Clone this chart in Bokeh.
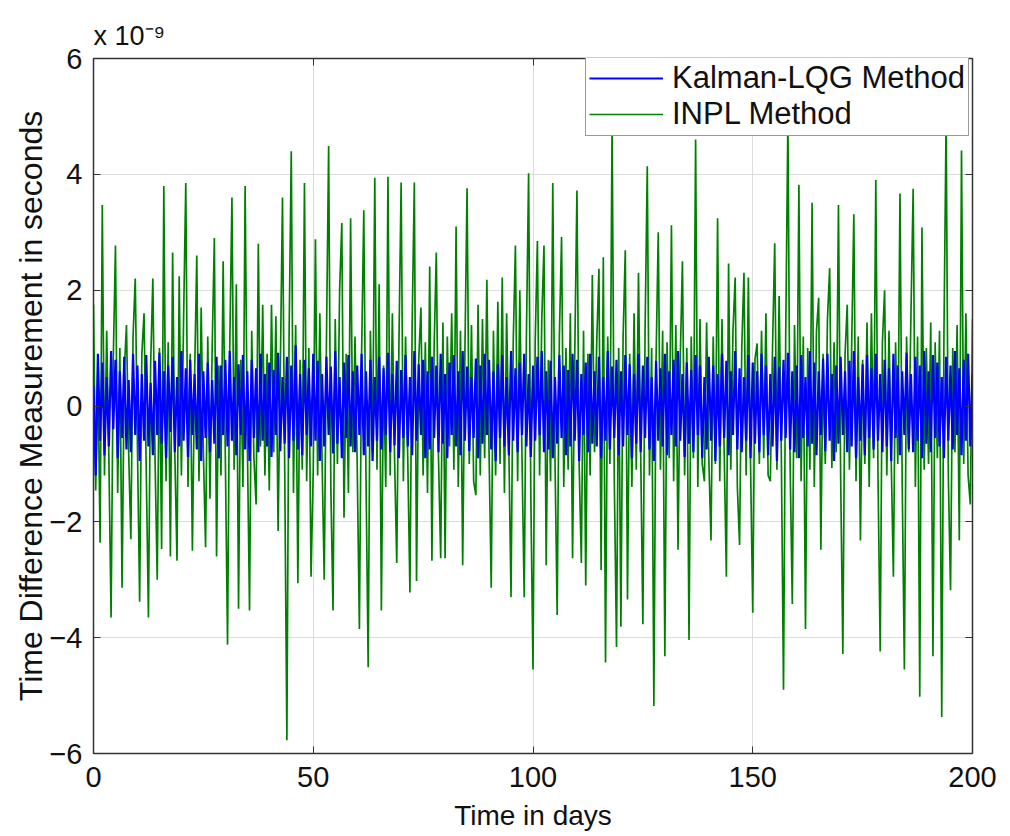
from bokeh.plotting import figure
from bokeh.models import (Range1d, LinearAxis, FixedTicker, Legend, LegendItem,
                          Title, CustomJSTickFormatter)
from bokeh.embed import file_html
from bokeh.resources import INLINE

# ---- data (values in units of 1e-9 s), sampled every half day ----
step_days = 0.5
x_ticks = [0, 50, 100, 150, 200]
y_ticks = [-6, -4, -2, 0, 2, 4, 6]
series_names = ["Kalman-LQG Method", "INPL Method"]
scale_text = "x 10\u207b\u2079"

kalman_lqg = [
    0.35, -1.2, 0.9, -0.6, 0.75, -0.85, 0.5, -0.7, 0.95, -0.4, 0.8, -0.9, 0.6, -0.55, 0.85, -0.75, 0.45, -0.8, 0.9, -0.5,
    0.7, -0.95, 0.55, -0.6, 0.88, -0.7, 0.4, -0.85, 0.78, -0.5, 0.92, -0.65, 0.6, -0.9, 0.7, -0.45, 0.85, -0.8, 0.5, -0.7,
    0.95, -0.6, 0.65, -0.88, 0.8, -0.5, 0.55, -0.75, 0.9, -0.95, 0.6, -0.55, 0.75, -0.8, 0.45, -0.65, 0.85, -0.9, 0.7, -0.5,
    0.8, -0.7, 0.95, -0.6, 0.5, -0.85, 0.72, -0.5, 0.88, -0.75, 0.6, -0.95, 0.8, -0.55, 0.65, -0.8, 0.9, -0.6, 0.55, -0.7,
    0.75, -0.88, 0.62, -0.5, 0.92, -0.78, 0.5, -0.65, 0.85, -0.9, 0.7, -0.6, 1.05, -0.75, 0.55, -0.85, 0.8, -0.5, 0.65, -0.7,
    0.9, -0.6, 0.78, -0.95, 0.55, -0.7, 0.85, -0.5, 0.68, -0.82, 0.95, -0.65, 0.5, -0.9, 0.75, -0.55, 0.88, -0.7, 0.6, -0.8,
    0.7, -0.5, 0.9, -0.85, 0.6, -0.7, 0.8, -0.95, 0.5, -0.6, 0.85, -0.75, 0.65, -0.5, 0.92, -0.8, 0.55, -0.68, 0.78, -0.9,
    0.62, -0.55, 0.88, -0.7, 0.5, -0.85, 0.95, -0.6, 0.72, -0.5, 0.8, -0.9, 0.6, -0.75, 0.85, -0.55, 0.7, -0.8, 0.9, -0.65,
    0.55, -0.9, 0.75, -0.5, 0.88, -0.7, 0.6, -0.85, 0.95, -0.6, 0.68, -0.78, 0.5, -0.55, 0.82, -0.9, 0.7, -0.65, 0.9, -0.5,
    0.8, -0.75, 0.6, -0.95, 0.72, -0.55, 0.88, -0.7, 0.5, -0.85, 0.95, -0.6, 0.65, -0.8, 0.75, -0.5, 0.9, -0.7, 0.55, -0.88,
    0.7, -0.6, 0.85, -0.5, 0.95, -0.8, 0.6, -0.75, 0.78, -0.9, 0.5, -0.65, 0.88, -0.55, 0.7, -0.85, 0.62, -0.7, 0.9, -0.6,
    0.8, -0.95, 0.55, -0.5, 0.75, -0.8, 0.9, -0.65, 0.6, -0.7, 0.85, -0.9, 0.5, -0.6, 0.95, -0.75, 0.68, -0.55, 0.8, -0.85,
    0.6, -0.7, 0.88, -0.5, 0.72, -0.9, 0.55, -0.65, 0.9, -0.8, 0.7, -0.55, 0.85, -0.75, 0.5, -0.95, 0.78, -0.6, 0.65, -0.7,
    0.9, -0.85, 0.6, -0.5, 0.8, -0.7, 0.95, -0.6, 0.55, -0.88, 0.75, -0.65, 0.62, -0.8, 0.88, -0.5, 0.7, -0.9, 0.5, -0.75,
    0.85, -0.6, 0.7, -0.95, 0.55, -0.7, 0.9, -0.55, 0.78, -0.85, 0.6, -0.5, 0.95, -0.75, 0.65, -0.8, 0.5, -0.6, 0.88, -0.9,
    0.75, -0.65, 0.6, -0.8, 0.9, -0.5, 0.7, -0.85, 0.55, -0.7, 0.85, -0.95, 0.68, -0.6, 0.8, -0.55, 0.92, -0.75, 0.6, -0.8,
    0.7, -0.9, 0.88, -0.55, 0.5, -0.7, 0.95, -0.65, 0.75, -0.85, 0.6, -0.5, 0.82, -0.78, 0.9, -0.6, 0.55, -0.95, 0.7, -0.65,
    0.85, -0.5, 0.6, -0.8, 0.78, -0.7, 0.95, -0.9, 0.5, -0.6, 0.72, -0.85, 0.88, -0.55, 0.65, -0.75, 0.9, -0.6, 0.55, -0.8,
    0.8, -0.7, 0.65, -0.95, 0.9, -0.55, 0.7, -0.85, 0.6, -0.5, 0.92, -0.75, 0.55, -0.8, 0.85, -0.6, 0.7, -0.9, 0.95, -0.65,
    0.6, -0.8, 0.88, -0.55, 0.75, -0.7, 0.5, -0.9, 0.85, -0.6, 0.7, -0.75, 0.95, -0.5, 0.65, -0.85, 0.8, -0.6, 0.9, -0.7,
    0.55,
]

inpl = [
    1.75, -1.46, 0.7, -2.36, 3.47, -1.2, 1.3, -0.9, -3.65, 0.8, 2.77, -1.5, 1.0, -3.14, 0.6, 1.4, -0.8, -2.3, 1.2, 2.2,
    -0.7, -3.38, 0.9, 1.6, -1.1, -3.65, 0.7, 2.2, -0.9, -3.0, 1.0, -2.47, 3.8, -1.3, 1.1, -2.6, 2.65, -0.8, -2.67, 2.24,
    -1.2, 1.5, 3.85, -1.4, 0.9, -2.5, 0.5, 2.6, -1.3, 1.7, -0.8, -2.44, 1.2, -1.6, 1.0, 2.9, -2.6, 0.7, -1.2, 2.5,
    -0.9, -4.12, 1.0, 3.6, -1.1, 2.1, -3.5, 0.8, -1.4, 3.8, -0.6, -3.53, 1.3, -0.9, -1.7, 2.8, -0.7, 1.75, -1.2, 0.9,
    -1.46, 1.75, -0.8, 1.55, -2.16, 0.6, 3.6, -1.0, -5.77, 1.2, 4.4, -1.5, 1.4, -3.06, 0.8, -1.1, 3.85, -1.3, 1.0, -2.95,
    -1.1, 2.88, -1.2, 1.6, -0.9, -3.0, 1.1, 4.49, -1.4, -3.53, 1.5, -1.0, 2.0, 3.16, -1.93, 0.9, -1.5, 3.24, -0.8, 1.2,
    -1.0, -3.85, 0.9, 3.38, -1.2, -4.51, 1.3, -0.8, 3.94, -1.1, 2.1, -3.53, 0.7, -1.4, 3.96, -1.2, 1.6, -0.9, -2.71, 1.1,
    3.86, -1.3, 1.2, -0.9, -3.22, 1.4, 3.86, -3.02, 0.8, 1.7, -1.2, 1.1, -1.5, 2.41, -2.67, 1.0, 2.65, -0.9, -2.63, 1.44,
    -2.63, 1.2, -0.7, 1.6, -1.1, 3.1, -1.4, 1.3, -2.75, 0.9, 3.76, -1.0, 1.4, -1.3, -1.54, 1.75, -1.2, 1.5, -0.9, 2.18,
    -0.8, -3.14, 1.3, -1.2, 1.8, -1.0, 2.22, -1.5, 1.6, -0.7, -3.3, 1.1, 2.77, -1.3, 2.0, -0.9, -3.3, 1.2, 4.02, -1.5,
    -4.55, 1.1, 2.85, -1.2, 1.5, 2.77, -2.75, 0.8, -1.3, 3.85, -0.9, -3.61, 1.2, 2.92, -1.4, 1.0, -1.1, 1.6, -2.63, 0.9,
    3.72, -1.0, -2.71, 1.3, -3.1, 0.9, -1.2, 2.26, -0.8, 1.1, 2.37, -2.83, 2.57, -4.43, 1.2, -1.0, 4.92, -1.3, -4.16, 1.0,
    -3.81, 1.2, 2.69, -3.34, 0.9, -1.4, 1.6, -1.1, 2.3, -0.8, -3.77, 1.3, 4.14, -1.2, 1.0, -5.18, 0.8, 3.0, -1.1, 1.3,
    -4.32, 1.1, -0.9, 3.12, -1.3, 1.4, -2.48, 0.8, 2.5, -1.2, 1.0, -4.04, 1.2, -0.9, 4.6, -1.4, 1.5, -1.0, -1.3, 1.44,
    -0.9, -2.32, 1.2, -1.0, 3.24, -1.3, 1.5, -0.8, -2.95, 2.46, -1.1, 1.3, 2.22, -1.4, -2.4, 1.0, 2.3, -1.2, 2.22, -1.0,
    -3.57, 0.8, 1.08, -1.0, 1.3, -0.9, 1.6, -1.2, -1.3, 1.0, 2.81, -1.1, 1.9, -0.8, -4.9, 1.2, 4.96, -1.0, -3.42, 1.4,
    -0.9, 3.82, -1.3, 1.2, -3.85, 1.0, -1.1, 3.51, -1.4, 1.3, 1.87, -2.48, 0.9, -1.0, 1.5, 2.38, -1.07, 1.1, -0.8, 3.47,
    -1.2, -4.28, 0.9, 1.75, -1.1, 1.0, 3.31, -1.3, 1.2, -2.32, 0.8, -1.0, 1.44, -1.4, 1.6, -0.9, 3.9, -1.2, -4.24, 1.1,
    2.0, -1.2, 1.3, -0.9, -2.95, 1.1, -1.0, 3.67, -1.3, -4.55, 1.2, -0.8, 1.6, 3.75, -1.4, 1.2, -5.02, 3.08, -1.1, 1.0,
    -1.0, 1.44, -4.32, 1.1, -0.9, 1.3, -5.37, 1.2, 4.96, -1.2, -3.18, 1.0, -0.8, 1.4, -2.32, 4.41, -1.0, 1.6, -1.2, -1.7,
    1.5,
]

days_k = [i * step_days for i in range(len(kalman_lqg))]
days_i = [i * step_days for i in range(len(inpl))]

FONT = "Liberation Sans"
AX = "#333333"
TXT = "#111111"

p = figure(width=1005, height=833,
           x_range=Range1d(0, 200), y_range=Range1d(-6, 6),
           output_backend="svg", toolbar_location=None,
           min_border_left=93, min_border_right=33,
           min_border_top=58, min_border_bottom=80,
           background_fill_color="white", border_fill_color="white")

p.outline_line_color = AX
p.outline_line_width = 1.5

# green drawn first so that the dense blue band sits on top, as in the reference
r_i = p.line(days_i, inpl, line_color="#008000", line_width=1.7)
r_k = p.line(days_k, kalman_lqg, line_color="#0000ff", line_width=2.2)

for ax in (p.xaxis[0], p.yaxis[0]):
    ax.major_label_text_font = FONT
    ax.major_label_text_font_size = "29px"
    ax.major_label_text_color = TXT
    ax.axis_label_text_font = FONT
    ax.axis_label_text_font_style = "normal"
    ax.axis_label_text_color = TXT
    ax.axis_line_color = AX
    ax.major_tick_line_color = AX
    ax.major_tick_in = 7
    ax.major_tick_out = 0
    ax.minor_tick_line_color = None

p.xaxis[0].ticker = FixedTicker(ticks=x_ticks)
p.yaxis[0].ticker = FixedTicker(ticks=y_ticks)
p.xaxis[0].axis_label = "Time in days"
p.yaxis[0].axis_label = "Time Difference Measurement in seconds"
p.xaxis[0].axis_label_text_font_size = "28px"
p.yaxis[0].axis_label_text_font_size = "32px"
p.xaxis[0].major_label_standoff = 13
p.yaxis[0].major_label_standoff = 11
p.xaxis[0].axis_label_standoff = 10
p.yaxis[0].axis_label_standoff = -3

blank = CustomJSTickFormatter(code="return ''")
top = LinearAxis(ticker=FixedTicker(ticks=x_ticks), formatter=blank,
                 major_tick_in=7, major_tick_out=0, minor_tick_line_color=None,
                 axis_line_color=AX, major_tick_line_color=AX,
                 major_label_standoff=0, major_label_text_font_size="1px")
right = LinearAxis(ticker=FixedTicker(ticks=y_ticks), formatter=blank,
                   major_tick_in=7, major_tick_out=0, minor_tick_line_color=None,
                   axis_line_color=AX, major_tick_line_color=AX,
                   major_label_standoff=0, major_label_text_font_size="1px")
p.add_layout(top, "above")
p.add_layout(right, "right")

p.xgrid.ticker = FixedTicker(ticks=x_ticks)
p.ygrid.ticker = FixedTicker(ticks=y_ticks)
p.grid.grid_line_color = "#dcdcdc"
p.grid.grid_line_width = 1

p.add_layout(Title(text=scale_text, align="left", text_font=FONT,
                   text_font_size="27px", text_font_style="normal",
                   text_color=TXT, standoff=15, offset=0), "above")

legend = Legend(items=[LegendItem(label=series_names[0], renderers=[r_k]),
                       LegendItem(label=series_names[1], renderers=[r_i])],
                location=(492, 617), orientation="vertical",
                label_text_font=FONT, label_text_font_size="31px",
                label_text_color=TXT,
                glyph_width=74, glyph_height=36, label_height=36,
                label_standoff=9, spacing=0, padding=3, margin=0,
                border_line_color=AX, border_line_width=1.5,
                background_fill_color="white", background_fill_alpha=1.0)
p.add_layout(legend, "center")

open("out.html", "w").write(file_html(p, INLINE))
